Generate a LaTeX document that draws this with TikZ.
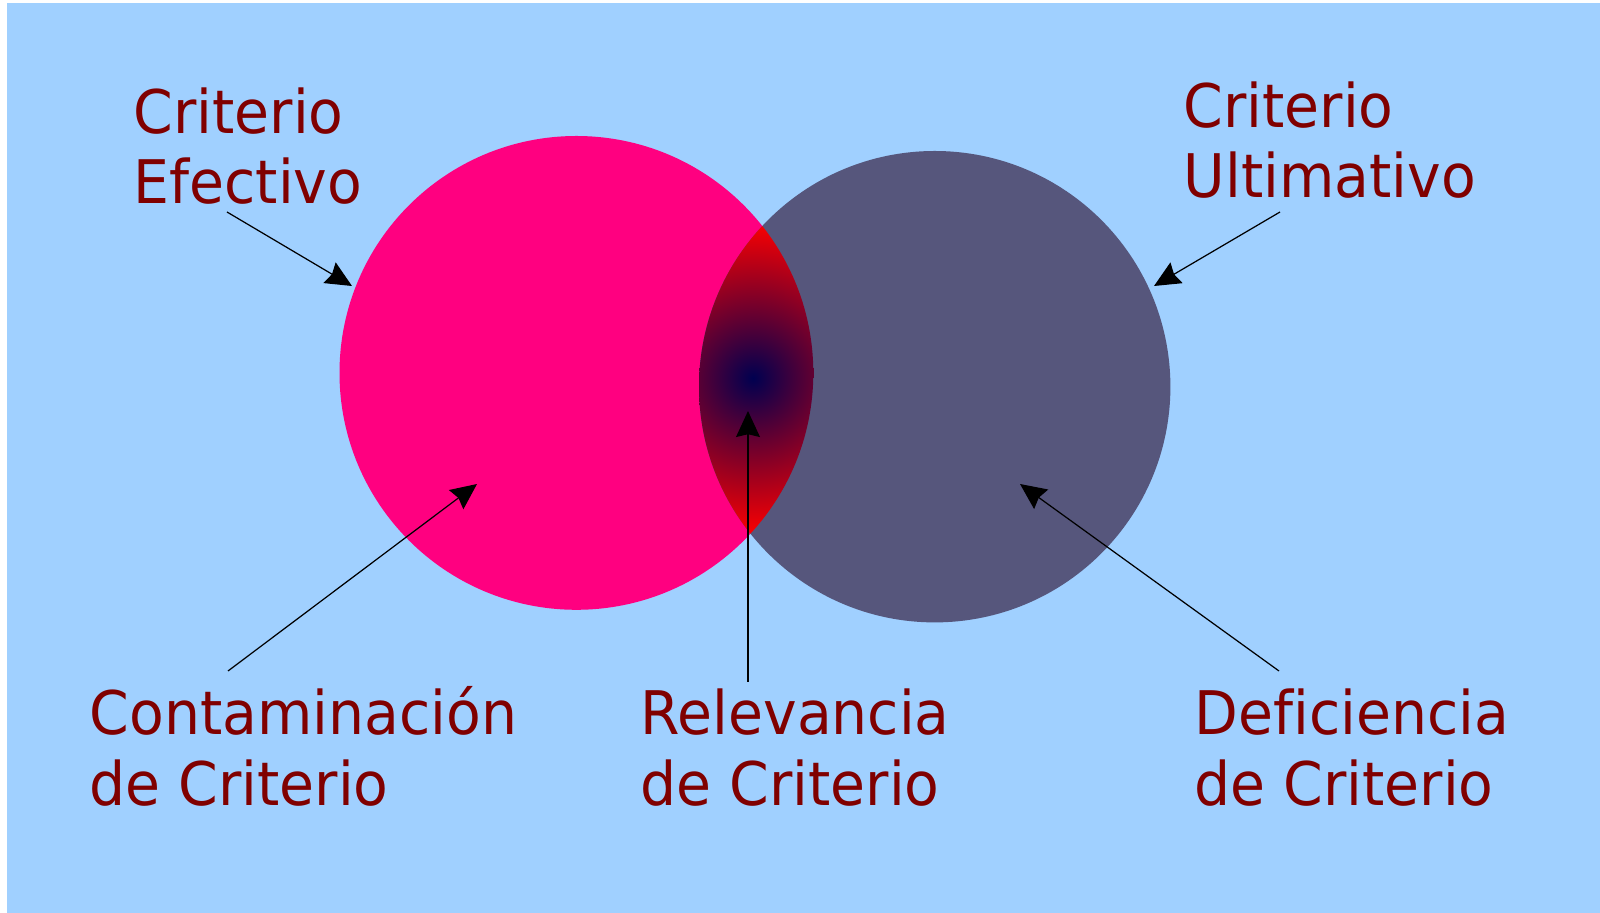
\documentclass[tikz,border=0pt]{standalone}
\usepackage{fontspec}
\setmainfont{DejaVu Sans}[FakeStretch=0.945, Ligatures=NoCommon]
\usetikzlibrary{arrows.meta}
\definecolor{rosa}{RGB}{255,0,128}
\definecolor{gris}{RGB}{86,86,124}
\definecolor{cielo}{RGB}{160,208,255}
\definecolor{granate}{RGB}{128,0,0}
\definecolor{marino}{RGB}{0,0,80}
\tikzset{
	etiqueta/.style={text=granate, font=\fontsize{17.1}{20}\selectfont, align=left, anchor=base west, inner sep=0pt},
	flecha/.style={line width=0.35pt, -{Stealth[length=7.4pt, width=6.8pt, inset=0.8pt]}}
}

\begin{document}
\begin{tikzpicture}[x=0.01cm, y=-0.01cm]
		\useasboundingbox (0,0) rectangle (1600,913);
		\fill[white] (0,0) rectangle (1600,913);
		\fill[cielo] (7,3) rectangle (1600,913);
		% criterios
		\fill[rosa] (576.4,372.9) circle (236.9);
		\fill[gris] (934.7,386.7) circle (235.7);
		\begin{scope}
			\clip (576.4,372.9) circle (236.9);
			\clip (934.7,386.7) circle (235.7);
			\shade[inner color=marino, outer color=red] (753,378) circle (158);
		\end{scope}
		% etiquetas (base = ultima linea)
		\node[etiqueta] (efectivo) at (133,204) {Criterio\\Efectivo};
		\node[etiqueta] (ultimativo) at (1183,198) {Criterio\\Ultimativo};
		\node[etiqueta] (contaminacion) at (89,805) {Contaminación\\de Criterio};
		\node[etiqueta] (relevancia) at (640,805) {Relevancia\\de Criterio};
		\node[etiqueta] (deficiencia) at (1194,805) {Deficiencia\\de Criterio};
		% flechas
		\coordinate (efectivo-a) at (227,212);
		\coordinate (efectivo-b) at (352,286);
		\coordinate (ultimativo-a) at (1280,212);
		\coordinate (ultimativo-b) at (1154,286);
		\coordinate (contaminacion-a) at (228,671);
		\coordinate (contaminacion-b) at (477,484);
		\coordinate (relevancia-a) at (748,682);
		\coordinate (relevancia-b) at (748,411);
		\coordinate (deficiencia-a) at (1279,671);
		\coordinate (deficiencia-b) at (1020,484);
		\foreach \n in {efectivo,ultimativo,contaminacion,relevancia,deficiencia}{
			\draw[flecha] (\n-a) -- (\n-b);
		}
	\end{tikzpicture}
\end{document}
